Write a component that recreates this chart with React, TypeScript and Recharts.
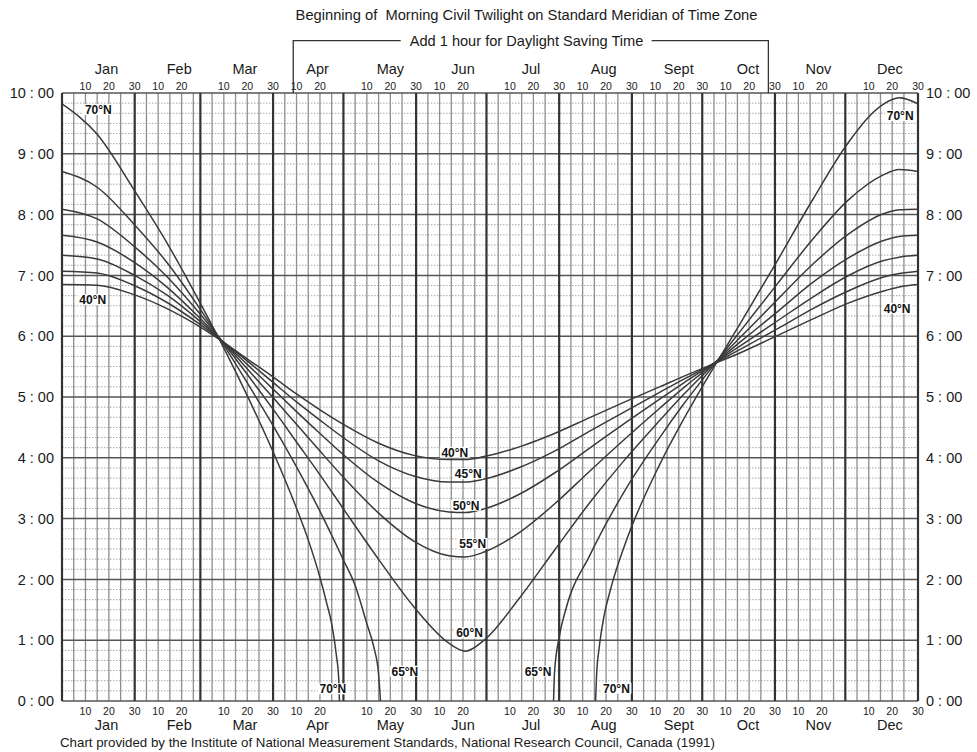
import React from "react";
import {
  ComposedChart,
  Line,
  XAxis,
  YAxis,
  ReferenceLine,
  ReferenceDot,
} from "recharts";

// Beginning of morning civil twilight (standard meridian), 40°N – 70°N.
// x = day of year, y = clock hours.

const FONT = '"Liberation Sans", Arial, Helvetica, sans-serif';

const MONTHS = ["Jan", "Feb", "Mar", "Apr", "May", "Jun", "Jul", "Aug", "Sept", "Oct", "Nov", "Dec"];
const MONTH_LENGTHS = [31, 28, 31, 30, 31, 30, 31, 31, 30, 31, 30, 31];
const MONTH_LABEL_DAYS = [19, 50, 78, 109, 140, 171, 200, 231, 263, 292.5, 322.5, 353];
const SHOW_THIRTY = [true, false, true, false, true, false, true, true, true, true, false, true];
const HOURS = [0, 1, 2, 3, 4, 5, 6, 7, 8, 9, 10];

const DAYS = [0, 15, 31, 45, 59, 70, 80, 90, 100, 110, 120, 135, 150, 165, 172, 180, 195, 210, 225, 240, 255, 265, 275, 290, 305, 320, 335, 350, 357, 365];
const LAT40 = [6.85, 6.84, 6.68, 6.45, 6.15, 5.87, 5.6, 5.33, 5.05, 4.79, 4.55, 4.24, 4.04, 3.97, 3.97, 4.02, 4.18, 4.4, 4.66, 4.92, 5.17, 5.34, 5.5, 5.74, 6.01, 6.28, 6.54, 6.74, 6.81, 6.85];
const LAT45 = [7.07, 7.04, 6.83, 6.55, 6.19, 5.87, 5.56, 5.24, 4.92, 4.62, 4.33, 3.95, 3.7, 3.6, 3.6, 3.65, 3.84, 4.11, 4.44, 4.76, 5.08, 5.29, 5.49, 5.8, 6.12, 6.45, 6.74, 6.97, 7.03, 7.07];
const LAT50 = [7.33, 7.27, 7.0, 6.67, 6.24, 5.86, 5.5, 5.13, 4.76, 4.4, 4.05, 3.59, 3.26, 3.11, 3.1, 3.16, 3.4, 3.75, 4.16, 4.57, 4.97, 5.23, 5.48, 5.86, 6.25, 6.64, 6.99, 7.24, 7.3, 7.33];
const LAT55 = [7.66, 7.55, 7.21, 6.8, 6.29, 5.85, 5.42, 4.99, 4.55, 4.11, 3.68, 3.09, 2.63, 2.39, 2.37, 2.45, 2.77, 3.24, 3.78, 4.31, 4.82, 5.15, 5.46, 5.93, 6.4, 6.88, 7.28, 7.57, 7.64, 7.66];
const LAT60 = [8.09, 7.93, 7.47, 6.97, 6.36, 5.83, 5.32, 4.8, 4.26, 3.72, 3.16, 2.33, 1.55, 0.95, 0.82, 1.0, 1.69, 2.48, 3.26, 3.97, 4.62, 5.04, 5.43, 6.01, 6.6, 7.18, 7.67, 8.01, 8.08, 8.09];

// 65°N and 70°N: no civil twilight around midsummer, so two pieces each
const LAT65_SPRING_DAYS = [0, 15, 31, 45, 59, 70, 80, 90, 100, 110, 120, 125, 130, 133, 135, 135.8];
const LAT65_SPRING = [8.71, 8.45, 7.83, 7.2, 6.44, 5.79, 5.17, 4.53, 3.85, 3.12, 2.32, 1.9, 1.27, 0.88, 0.44, 0];
const LAT65_AUTUMN_DAYS = [209.6, 210, 212, 215, 225, 240, 255, 265, 275, 290, 305, 320, 335, 350, 357, 365];
const LAT65_AUTUMN = [0, 0.46, 1.05, 1.53, 2.39, 3.46, 4.34, 4.88, 5.38, 6.12, 6.86, 7.59, 8.23, 8.65, 8.74, 8.71];

const LAT70_SPRING_DAYS = [0, 15, 31, 45, 59, 70, 80, 90, 100, 105, 110, 113, 115, 117, 118, 118.3];
const LAT70_SPRING = [9.82, 9.32, 8.39, 7.52, 6.54, 5.73, 4.94, 4.1, 3.17, 2.65, 2.03, 1.59, 1.27, 0.75, 0.36, 0];
const LAT70_AUTUMN_DAYS = [227.5, 228, 229, 231, 234, 240, 255, 265, 275, 290, 305, 320, 335, 350, 357, 365];
const LAT70_AUTUMN = [0, 0.47, 0.86, 1.37, 1.85, 2.57, 3.9, 4.63, 5.3, 6.26, 7.24, 8.24, 9.17, 9.81, 9.92, 9.82];

const LABEL_TEXT = ["70°N", "40°N", "70°N", "40°N", "40°N", "45°N", "50°N", "55°N", "60°N", "65°N", "65°N", "70°N", "70°N"];
const LABEL_DAY = [15.5, 13.1, 357.4, 356.1, 167.5, 173.2, 172.3, 175.1, 173.8, 146.2, 203, 115.5, 236.4];
const LABEL_TIME = [9.73, 6.6, 9.63, 6.46, 4.09, 3.74, 3.22, 2.59, 1.12, 0.49, 0.49, 0.2, 0.21];

// DST bracket (Apr → Oct)
const DST_START = 98.6;
const DST_END = 301.2;

const W = 977;
const H = 752;
const PLOT_LEFT = 62;
const PLOT_RIGHT = 918;
const PLOT_TOP = 93;
const PLOT_BOTTOM = 701;
const xOf = (d: number) => PLOT_LEFT + (d * (PLOT_RIGHT - PLOT_LEFT)) / 365;

const monthStarts: number[] = [];
MONTH_LENGTHS.forEach((len, i) => {
  monthStarts.push(i === 0 ? 0 : monthStarts[i - 1] + MONTH_LENGTHS[i - 1]);
});

const dayTicks: number[] = [];
const dayTickText: string[] = [];
monthStarts.forEach((s, i) => {
  dayTicks.push(s + 10, s + 20);
  dayTickText.push("10", "20");
  if (SHOW_THIRTY[i]) {
    dayTicks.push(s + MONTH_LENGTHS[i]);
    dayTickText.push("30");
  }
});

const minorDays: number[] = [];
monthStarts.forEach((s) => {
  for (let k = 5; k <= 25; k += 5) minorDays.push(s + k);
});
const monthEnds = [0, ...monthStarts.map((s, i) => s + MONTH_LENGTHS[i])];

const minorHours: number[] = [];
for (let h = 0; h < 10; h++) for (let k = 1; k < 6; k++) minorHours.push(h + k / 6);

const toRows = (days: number[], vals: number[]) => days.map((day, i) => ({ day, t: vals[i] }));

const SERIES = [
  toRows(DAYS, LAT40),
  toRows(DAYS, LAT45),
  toRows(DAYS, LAT50),
  toRows(DAYS, LAT55),
  toRows(DAYS, LAT60),
  toRows(LAT65_SPRING_DAYS, LAT65_SPRING),
  toRows(LAT65_AUTUMN_DAYS, LAT65_AUTUMN),
  toRows(LAT70_SPRING_DAYS, LAT70_SPRING),
  toRows(LAT70_AUTUMN_DAYS, LAT70_AUTUMN),
];

const dayLabel = (v: number) => dayTickText[dayTicks.indexOf(v)] ?? "";
const monthLabel = (v: number) => MONTHS[MONTH_LABEL_DAYS.indexOf(v)] ?? "";
const hourLabel = (v: number) => `${v} : 00`;

const latLabel = (text: string) => (props: any) => {
  const vb = props.viewBox || {};
  const cx = (vb.x ?? 0) + (vb.width ?? 0) / 2;
  const cy = (vb.y ?? 0) + (vb.height ?? 0) / 2;
  return (
    <g>
      <rect x={cx - 15} y={cy - 5.5} width={30} height={11} fill="#fff" />
      <text
        x={cx}
        y={cy + 4.3}
        textAnchor="middle"
        fontSize={12}
        fontWeight="bold"
        fontFamily={FONT}
        fill="#111"
      >
        {text}
      </text>
    </g>
  );
};

const axisTick = { fill: "#1a1a1a", fontFamily: FONT };

export default function App() {
  const topAxisH = 14;
  return (
    <div style={{ position: "relative", width: W, height: H, background: "#fff" }}>
      <style>{"body{margin:0}"}</style>
      <ComposedChart
        width={W}
        height={H}
        margin={{ top: PLOT_TOP - 2 * topAxisH, bottom: H - PLOT_BOTTOM - 28, left: 0, right: 0 }}
      >
        <XAxis
          xAxisId="days"
          dataKey="day"
          type="number"
          domain={[0, 365]}
          allowDataOverflow
          ticks={dayTicks}
          interval={0}
          tickFormatter={dayLabel}
          orientation="bottom"
          height={14}
          tickSize={0}
          tickMargin={6.5}
          axisLine={false}
          tickLine={false}
          tick={{ ...axisTick, fontSize: 10.5 }}
        />
        <XAxis
          xAxisId="monthsB"
          dataKey="day"
          type="number"
          domain={[0, 365]}
          allowDataOverflow
          ticks={MONTH_LABEL_DAYS}
          interval={0}
          tickFormatter={monthLabel}
          orientation="bottom"
          height={14}
          tickSize={0}
          tickMargin={5}
          axisLine={false}
          tickLine={false}
          tick={{ ...axisTick, fontSize: 14.5 }}
        />
        <XAxis
          xAxisId="daysT"
          dataKey="day"
          type="number"
          domain={[0, 365]}
          allowDataOverflow
          ticks={dayTicks}
          interval={0}
          tickFormatter={dayLabel}
          orientation="top"
          height={topAxisH}
          tickSize={0}
          tickMargin={3}
          axisLine={false}
          tickLine={false}
          tick={{ ...axisTick, fontSize: 10.5 }}
        />
        <XAxis
          xAxisId="monthsT"
          dataKey="day"
          type="number"
          domain={[0, 365]}
          allowDataOverflow
          ticks={MONTH_LABEL_DAYS}
          interval={0}
          tickFormatter={monthLabel}
          orientation="top"
          height={topAxisH}
          tickSize={0}
          tickMargin={5}
          axisLine={false}
          tickLine={false}
          tick={{ ...axisTick, fontSize: 14.5 }}
        />
        <YAxis
          yAxisId="left"
          type="number"
          domain={[0, 10]}
          allowDataOverflow
          ticks={HOURS}
          interval={0}
          tickFormatter={hourLabel}
          width={PLOT_LEFT}
          tickSize={0}
          tickMargin={8}
          axisLine={false}
          tickLine={false}
          tick={{ ...axisTick, fontSize: 14.5 }}
        />
        <YAxis
          yAxisId="right"
          orientation="right"
          type="number"
          domain={[0, 10]}
          allowDataOverflow
          ticks={HOURS}
          interval={0}
          tickFormatter={hourLabel}
          width={W - PLOT_RIGHT}
          tickSize={0}
          tickMargin={8}
          axisLine={false}
          tickLine={false}
          tick={{ ...axisTick, fontSize: 14.5 }}
        />

        {minorHours.map((h) => (
          <ReferenceLine
            key={`mh${h}`}
            xAxisId="days"
            yAxisId="left"
            y={h}
            stroke="#a8a8a8"
            strokeWidth={1}
            strokeDasharray="1.5 1.5"
          />
        ))}
        {minorDays.map((d) => (
          <ReferenceLine key={`md${d}`} xAxisId="days" yAxisId="left" x={d} stroke="#8e8e8e" strokeWidth={1.3} />
        ))}
        {HOURS.map((h) => (
          <ReferenceLine key={`h${h}`} xAxisId="days" yAxisId="left" y={h} stroke="#555" strokeWidth={1.5} />
        ))}
        {monthEnds.map((d) => (
          <ReferenceLine key={`me${d}`} xAxisId="days" yAxisId="left" x={d} stroke="#333" strokeWidth={2.2} />
        ))}

        {SERIES.map((rows, i) => (
          <Line
            key={`s${i}`}
            xAxisId="days"
            yAxisId="left"
            data={rows}
            dataKey="t"
            type="monotone"
            stroke="#3a3a3a"
            strokeWidth={1.5}
            dot={false}
            activeDot={false}
            isAnimationActive={false}
          />
        ))}

        {LABEL_TEXT.map((t, i) => (
          <ReferenceDot
            key={`lab${i}`}
            xAxisId="days"
            yAxisId="left"
            x={LABEL_DAY[i]}
            y={LABEL_TIME[i]}
            r={0}
            fill="none"
            stroke="none"
            label={latLabel(t)}
          />
        ))}
      </ComposedChart>

      <svg
        width={W}
        height={H}
        style={{ position: "absolute", left: 0, top: 0, pointerEvents: "none" }}
      >
        <text
          x={526.5}
          y={20}
          textAnchor="middle"
          fontSize={14.7}
          fontFamily={FONT}
          fill="#1a1a1a"
          style={{ whiteSpace: "pre" }}
        >
          {"Beginning of  Morning Civil Twilight on Standard Meridian of Time Zone"}
        </text>
        <text x={526.5} y={46} textAnchor="middle" fontSize={14.6} fontFamily={FONT} fill="#1a1a1a">
          Add 1 hour for Daylight Saving Time
        </text>
        <polyline
          points={`${xOf(DST_START)},${PLOT_TOP} ${xOf(DST_START)},40.7 400.7,40.7`}
          fill="none"
          stroke="#333"
          strokeWidth={1.3}
        />
        <polyline
          points={`651.7,40.7 ${xOf(DST_END)},40.7 ${xOf(DST_END)},${PLOT_TOP}`}
          fill="none"
          stroke="#333"
          strokeWidth={1.3}
        />
        <text x={60} y={747} fontSize={13.3} fontFamily={FONT} fill="#1a1a1a">
          Chart provided by the Institute of National Measurement Standards, National Research Council, Canada (1991)
        </text>
      </svg>
    </div>
  );
}
